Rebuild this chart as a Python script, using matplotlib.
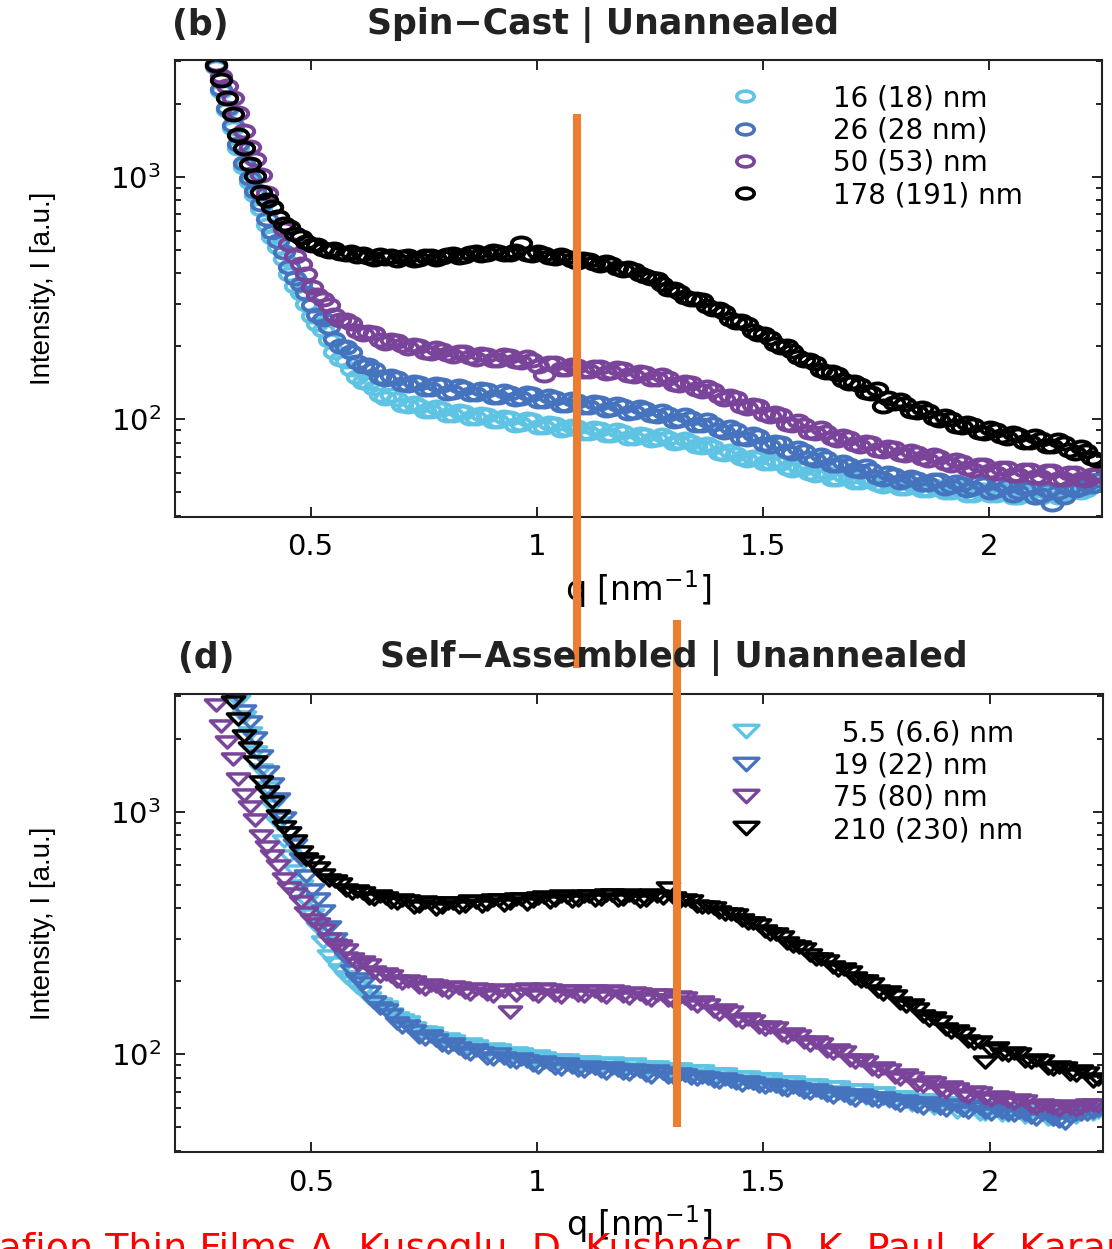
import numpy as np
import matplotlib
matplotlib.use('Agg')
import matplotlib.pyplot as plt
from matplotlib.lines import Line2D
from matplotlib.path import Path
from matplotlib import transforms as mtransforms
from matplotlib.ticker import LogLocator, NullFormatter

# scattering vector grid shared by all curves [nm^-1]
q = [0.2900, 0.3025, 0.3150, 0.3275, 0.3400, 0.3525, 0.3650, 0.3775, 0.3900, 0.4025,
     0.4150, 0.4275, 0.4400, 0.4525, 0.4650, 0.4775, 0.4900, 0.5025, 0.5150, 0.5275,
     0.5400, 0.5525, 0.5650, 0.5775, 0.5900, 0.6025, 0.6150, 0.6275, 0.6400, 0.6525,
     0.6650, 0.6775, 0.6900, 0.7025, 0.7150, 0.7275, 0.7400, 0.7525, 0.7650, 0.7775,
     0.7900, 0.8025, 0.8150, 0.8275, 0.8400, 0.8525, 0.8650, 0.8775, 0.8900, 0.9025,
     0.9150, 0.9275, 0.9400, 0.9525, 0.9650, 0.9775, 0.9900, 1.0025, 1.0150, 1.0275,
     1.0400, 1.0525, 1.0650, 1.0775, 1.0900, 1.1025, 1.1150, 1.1275, 1.1400, 1.1525,
     1.1650, 1.1775, 1.1900, 1.2025, 1.2150, 1.2275, 1.2400, 1.2525, 1.2650, 1.2775,
     1.2900, 1.3025, 1.3150, 1.3275, 1.3400, 1.3525, 1.3650, 1.3775, 1.3900, 1.4025,
     1.4150, 1.4275, 1.4400, 1.4525, 1.4650, 1.4775, 1.4900, 1.5025, 1.5150, 1.5275,
     1.5400, 1.5525, 1.5650, 1.5775, 1.5900, 1.6025, 1.6150, 1.6275, 1.6400, 1.6525,
     1.6650, 1.6775, 1.6900, 1.7025, 1.7150, 1.7275, 1.7400, 1.7525, 1.7650, 1.7775,
     1.7900, 1.8025, 1.8150, 1.8275, 1.8400, 1.8525, 1.8650, 1.8775, 1.8900, 1.9025,
     1.9150, 1.9275, 1.9400, 1.9525, 1.9650, 1.9775, 1.9900, 2.0025, 2.0150, 2.0275,
     2.0400, 2.0525, 2.0650, 2.0775, 2.0900, 2.1025, 2.1150, 2.1275, 2.1400, 2.1525,
     2.1650, 2.1775, 2.1900, 2.2025, 2.2150, 2.2275, 2.2400]

# spin-cast films, unannealed
spin_16 = [2830, 2250, 1880, 1580, 1310, 1100, 950, 840, 738, 632,
           562, 512, 456, 396, 354, 332, 299, 266, 246, 234,
           213, 189, 177, 174, 162, 149, 143, 141, 135, 126,
           123, 126, 121, 115, 113, 117, 114, 108, 108, 112,
           110, 104, 104, 108, 107, 101, 101, 105, 104, 98,
           98, 102, 101, 95, 96, 100, 99, 93, 93, 97,
           96, 90, 91, 94, 93, 88, 88, 92, 91, 86,
           86, 90, 89, 84, 84, 87, 86, 82, 83, 86,
           84, 80, 81, 83, 81, 78, 77, 79, 77, 73,
           72, 74, 72, 69, 68, 70, 69, 66, 66, 68,
           66, 63, 62, 64, 63, 60, 59, 61, 60, 57,
           57, 59, 58, 55, 55, 57, 56, 54, 53, 55,
           54, 52, 52, 54, 53, 51, 51, 53, 52, 50,
           50, 52, 52, 49, 49, 51, 51, 49, 49, 51,
           51, 48, 48, 50, 50, 48, 48, 50, 50, 48,
           49, 51, 52, 50, 51, 53, 54]
spin_26 = [2860, 2300, 1920, 1630, 1370, 1140, 985, 870, 772, 672,
           590, 542, 488, 425, 383, 360, 331, 296, 270, 258,
           240, 214, 201, 199, 189, 172, 166, 167, 162, 150,
           146, 151, 148, 140, 138, 143, 141, 133, 133, 140,
           138, 129, 130, 137, 135, 127, 127, 133, 132, 124,
           124, 131, 129, 121, 122, 128, 127, 119, 119, 125,
           123, 115, 115, 121, 119, 112, 112, 118, 117, 109,
           110, 116, 114, 106, 107, 112, 110, 104, 103, 108,
           105, 98, 99, 104, 101, 95, 95, 99, 96, 90,
           89, 93, 90, 84, 83, 87, 85, 79, 78, 81,
           80, 74, 73, 76, 74, 69, 68, 71, 69, 65,
           65, 67, 65, 62, 61, 64, 62, 58, 57, 60,
           59, 55, 56, 58, 57, 54, 54, 56, 56, 52,
           53, 55, 54, 51, 52, 55, 54, 50, 51, 54,
           53, 49, 50, 52, 52, 48, 49, 51, 45, 50,
           48, 52, 51, 52, 54, 53, 56]
spin_50 = [2920, 2610, 2370, 2110, 1830, 1540, 1330, 1180, 1015, 860,
           748, 680, 610, 528, 472, 438, 396, 350, 325, 312,
           296, 270, 257, 256, 250, 232, 225, 228, 226, 212,
           207, 213, 211, 202, 196, 203, 201, 190, 188, 196,
           194, 186, 182, 190, 189, 180, 178, 186, 185, 175,
           176, 184, 183, 174, 172, 180, 176, 166, 152, 171,
           170, 162, 161, 168, 166, 158, 158, 165, 164, 155,
           156, 163, 161, 152, 151, 157, 155, 147, 146, 152,
           148, 140, 138, 143, 141, 133, 131, 136, 132, 125,
           121, 125, 122, 114, 111, 115, 113, 105, 103, 106,
           104, 96, 95, 98, 95, 89, 88, 92, 89, 84,
           82, 85, 84, 79, 78, 81, 80, 75, 74, 77,
           76, 72, 71, 74, 73, 69, 68, 71, 70, 66,
           65, 68, 67, 63, 62, 65, 65, 61, 60, 63,
           63, 59, 59, 62, 62, 58, 58, 61, 61, 57,
           57, 60, 60, 57, 56, 59, 59]
spin_178 = [2880, 2500, 2100, 1810, 1480, 1310, 1130, 1010, 865, 805,
            752, 684, 638, 618, 578, 566, 536, 522, 524, 502,
            494, 503, 486, 478, 488, 470, 481, 466, 460, 474,
            463, 470, 455, 466, 469, 452, 457, 470, 472, 459,
            468, 476, 480, 466, 470, 484, 488, 474, 478, 492,
            490, 478, 481, 495, 535, 480, 476, 488, 482, 467,
            463, 474, 466, 455, 447, 458, 452, 440, 433, 444,
            437, 422, 414, 420, 412, 397, 389, 384, 378, 360,
            346, 344, 335, 318, 312, 312, 309, 292, 285, 284,
            276, 260, 253, 254, 246, 232, 225, 225, 217, 205,
            199, 200, 192, 180, 175, 176, 171, 160, 156, 157,
            154, 145, 141, 143, 139, 130, 128, 133, 114, 123,
            117, 120, 116, 108, 107, 111, 108, 101, 99, 103,
            100, 94, 93, 97, 95, 89, 88, 92, 90, 85,
            84, 88, 86, 81, 81, 85, 83, 78, 78, 82,
            80, 75, 73, 77, 74, 69, 68]

# self-assembled films, unannealed
self_5p5 = [4900, 4300, 3800, 3300, 2850, 2450, 2100, 1760, 1480, 1250,
            1060, 900, 760, 655, 570, 495, 430, 375, 330, 290,
            255, 238, 222, 208, 198, 190, 182, 170, 164, 161,
            156, 147, 141, 139, 136, 128, 124, 124, 123, 117,
            114, 116, 114, 109, 107, 110, 108, 103, 102, 105,
            104, 99, 98, 101, 100, 95, 94, 98, 97, 92,
            92, 95, 95, 90, 90, 93, 93, 88, 88, 91,
            92, 87, 87, 90, 91, 86, 86, 89, 89, 84,
            84, 87, 87, 82, 82, 85, 85, 80, 80, 83,
            83, 78, 78, 81, 81, 76, 76, 79, 79, 74,
            74, 77, 77, 72, 72, 75, 75, 70, 70, 73,
            73, 68, 68, 71, 71, 66, 66, 69, 69, 64,
            64, 67, 67, 62, 62, 65, 65, 60, 60, 63,
            63, 58, 59, 62, 62, 57, 57, 60, 60, 56,
            56, 59, 59, 55, 55, 58, 58, 54, 54, 57,
            57, 55, 55, 58, 59, 57, 58]
self_19 = [5000, 4350, 3900, 3450, 3000, 2600, 2330, 2020, 1690, 1460,
           1300, 1130, 945, 815, 731, 640, 541, 475, 437, 388,
           334, 300, 277, 250, 221, 204, 196, 181, 165, 155,
           153, 145, 135, 130, 131, 125, 118, 116, 119, 115,
           109, 107, 110, 106, 102, 100, 104, 101, 97, 96,
           100, 97, 94, 93, 96, 94, 90, 89, 93, 91,
           88, 87, 91, 89, 86, 85, 89, 88, 85, 84,
           88, 86, 84, 83, 86, 85, 82, 81, 85, 84,
           81, 80, 83, 82, 80, 79, 81, 80, 78, 77,
           79, 78, 76, 75, 77, 76, 74, 73, 75, 74,
           72, 71, 73, 72, 70, 69, 71, 70, 68, 67,
           69, 68, 66, 65, 68, 67, 65, 64, 66, 65,
           63, 62, 64, 63, 61, 60, 63, 62, 60, 59,
           62, 61, 59, 58, 61, 60, 58, 57, 59, 58,
           57, 56, 58, 57, 55, 54, 57, 56, 54, 53,
           52, 55, 57, 57, 57, 58, 59]
self_75 = [2750, 2250, 1930, 1650, 1360, 1170, 1045, 920, 790, 712,
           658, 598, 528, 484, 456, 425, 384, 356, 345, 326,
           298, 282, 279, 268, 248, 236, 239, 233, 218, 210,
           215, 211, 200, 196, 201, 199, 190, 186, 193, 192,
           184, 181, 189, 188, 180, 177, 185, 184, 177, 174,
           184, 183, 150, 176, 184, 185, 177, 174, 185, 184,
           176, 173, 183, 182, 176, 174, 183, 182, 176, 173,
           182, 181, 174, 171, 179, 178, 170, 168, 176, 175,
           167, 165, 173, 171, 162, 158, 164, 160, 151, 147,
           152, 150, 139, 136, 140, 137, 129, 127, 130, 128,
           120, 118, 121, 119, 112, 109, 112, 110, 103, 101,
           104, 102, 95, 93, 95, 93, 87, 85, 88, 86,
           81, 79, 82, 80, 75, 74, 77, 76, 71, 70,
           73, 72, 68, 67, 70, 69, 66, 65, 67, 66,
           64, 63, 65, 64, 61, 60, 62, 61, 60, 59,
           61, 60, 59, 60, 62, 62, 61]
self_210 = [4400, 3700, 3200, 2820, 2400, 2050, 1830, 1600, 1330, 1210,
            1095, 960, 868, 820, 760, 684, 641, 622, 588, 548,
            523, 517, 502, 476, 463, 470, 461, 442, 438, 448,
            442, 425, 421, 432, 428, 405, 410, 426, 421, 398,
            406, 422, 420, 404, 409, 428, 425, 410, 415, 432,
            431, 412, 420, 438, 436, 418, 427, 442, 444, 425,
            433, 450, 447, 430, 434, 450, 448, 432, 437, 455,
            452, 434, 438, 452, 446, 428, 433, 452, 450, 440,
            485, 440, 430, 432, 427, 410, 404, 405, 401, 386,
            378, 380, 375, 356, 347, 348, 341, 322, 313, 314,
            305, 288, 279, 278, 271, 256, 248, 248, 243, 230,
            223, 224, 219, 206, 200, 201, 195, 183, 178, 180,
            174, 163, 158, 159, 154, 144, 139, 141, 136, 127,
            124, 125, 121, 113, 111, 112, 93, 104, 106, 100,
            99, 101, 100, 94, 93, 95, 94, 88, 87, 89,
            88, 83, 82, 85, 84, 78, 79]

spin_labels = ['16 (18) nm', '26 (28 nm)', '50 (53) nm', '178 (191) nm']
self_labels = [' 5.5 (6.6) nm', '19 (22) nm', '75 (80) nm', '210 (230) nm']
colors = ['#5fc3e4', '#4673be', '#7a449b', '#000000']

# q positions flagged with the orange bars (top panel, bottom panel)
mark_q = [1.09, 1.31]

# flattened open markers
ring = Path.unit_circle().transformed(mtransforms.Affine2D().scale(1.0, 0.62))
tri = Path([(-1, 0.5), (1, 0.5), (0, -0.5), (-1, 0.5)],
           [Path.MOVETO, Path.LINETO, Path.LINETO, Path.CLOSEPOLY])


def style_axes(ax, ylim):
    ax.set_yscale('log')
    ax.set_xlim(0.20, 2.25)
    ax.set_ylim(*ylim)
    ax.set_xticks([0.5, 1, 1.5, 2])
    ax.set_xticklabels(['0.5', '1', '1.5', '2'])
    ax.yaxis.set_minor_locator(LogLocator(base=10, subs=np.arange(2, 10)))
    ax.yaxis.set_minor_formatter(NullFormatter())
    ax.tick_params(which='both', direction='in', top=True, right=True,
                   width=1.4, color='#222222')
    ax.tick_params(which='major', length=7, labelsize=21)
    ax.tick_params(which='minor', length=4)
    ax.tick_params(axis='x', pad=12)
    ax.tick_params(axis='y', pad=10)
    for s in ax.spines.values():
        s.set_linewidth(1.5)
        s.set_color('#222222')
    ax.set_xlabel('q [nm$^{-1}$]', fontsize=24)
    ax.xaxis.set_label_coords(0.5, -0.112)
    ax.set_ylabel('Intensity, I [a.u.]', family='Liberation Sans', fontsize=20)
    ax.yaxis.set_label_coords(-0.128, 0.5)


fig = plt.figure(figsize=(11.12, 12.49), dpi=100)
ax1 = fig.add_axes([0.1574, 0.5863, 0.8336, 0.3657])
ax2 = fig.add_axes([0.1574, 0.0777, 0.8345, 0.3667])

for ys, c in zip([spin_16, spin_26, spin_50, spin_178], colors):
    ax1.plot(q, ys, ls='none', marker=ring, ms=14, mew=2.8,
             mfc='none', mec=c)
for ys, c in zip([self_5p5, self_19, self_75, self_210], colors):
    ax2.plot(q, ys, ls='none', marker=tri, ms=16, mew=2.5,
             mfc='none', mec=c)

style_axes(ax1, (39.7, 3027))
style_axes(ax2, (39.6, 3055))

h1 = [Line2D([], [], ls='none', marker=ring, ms=12.5, mew=2.6, mfc='none', mec=c)
      for c in colors]
h2 = [Line2D([], [], ls='none', marker=tri, ms=18, mew=2.4, mfc='none', mec=c)
      for c in colors]
leg_kw = dict(loc='upper left', frameon=False, fontsize=20, handlelength=1.2,
              handletextpad=2.56, labelspacing=0.155, borderpad=0,
              borderaxespad=0)
ax1.legend(h1, spin_labels, bbox_to_anchor=(0.597, 0.947), **leg_kw)
ax2.legend(h2, self_labels, bbox_to_anchor=(0.597, 0.945), **leg_kw)

# panel titles
title_kw = dict(fontsize=25, fontweight='bold', color='#222222',
                ha='center', va='center')
fig.text(0.1799, 0.980, '(b)', **title_kw)
fig.text(0.5423, 0.980, 'Spin\u2212Cast | Unannealed', **title_kw)
fig.text(0.1853, 0.4732, '(d)', **title_kw)
fig.text(0.6061, 0.4732, 'Self\u2212Assembled | Unannealed', **title_kw)

# orange marker bars, x in data units, y in figure fraction
orange = '#ed7d31'
for ax, xq, (y0, y1) in zip([ax1, ax2], mark_q, [(0.4652, 0.9087), (0.0977, 0.5036)]):
    trans = mtransforms.blended_transform_factory(ax.transData, fig.transFigure)
    fig.add_artist(Line2D([xq, xq], [y0, y1], transform=trans, color=orange,
                          lw=5.8, solid_capstyle='butt'))

fig.text(-0.027, -0.0088,
         'Nafion Thin Films A. Kusoglu, D. Kushner, D. K. Paul, K. Karan',
         color='red', fontsize=27.4, ha='left', va='baseline')

fig.savefig('out.png', dpi=100)
